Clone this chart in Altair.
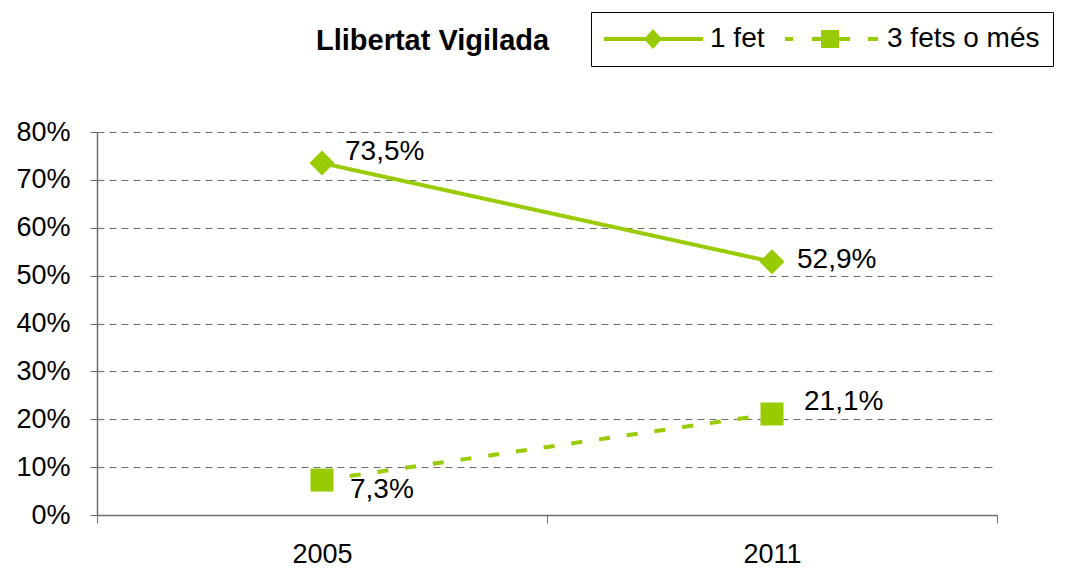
import altair as alt
import pandas as pd

# ---- data ----
years = ["2005", "2011"]
series_names = ["1 fet", "3 fets o més"]
values_1fet = [0.735, 0.529]
values_3fets = [0.073, 0.211]
y_ticks = [0.0, 0.1, 0.2, 0.3, 0.4, 0.5, 0.6, 0.7, 0.8]

rows = []
for s, vals in zip(series_names, [values_1fet, values_3fets]):
    for yr, v in zip(years, vals):
        rows.append({"year": yr, "series": s, "value": v})
df = pd.DataFrame(rows)

# ---- style ----
GREEN = "#99CC00"
FONT = "Liberation Sans"
AXIS_GREY = "#6e6e6e"
line_dashes = [[1, 0], [11, 17]]
point_shapes = ["diamond", "square"]
point_sizes = [625, 529]
label_offsets = {
    ("1 fet", "2005"): (23, -11),
    ("1 fet", "2011"): (25, -2),
    ("3 fets o més", "2005"): (28, 10),
    ("3 fets o més", "2011"): (32, -12),
}
# legend glyphs (line + marker), drawn in symbol units, shifted right by 3.5
legend_paths = [
    "M2.1,-0.2L2.78,-0.2L3.5,-1L4.22,-0.2L8.5,-0.2L8.5,0.2L4.22,0.2L3.5,1L2.78,0.2L2.1,0.2Z "
    "M-1.4,-0.2L2.1,-0.2L2.1,0.2L-1.4,0.2Z",
    "M-1,-0.2L-0.2,-0.2L-0.2,0.2L-1,0.2Z "
    "M1.7,-0.2L2.6,-0.2L2.6,-0.9L4.4,-0.9L4.4,-0.2L5.5,-0.2L5.5,0.2L4.4,0.2L4.4,0.9L2.6,0.9L2.6,0.2L1.7,0.2Z "
    "M7.3,-0.2L8.3,-0.2L8.3,0.2L7.3,0.2Z",
]

x_enc = alt.X(
    "year:N",
    sort=years,
    scale=alt.Scale(type="band", paddingInner=0, paddingOuter=0),
    axis=alt.Axis(
        title=None, labelAngle=0, tickBand="extent", tickSize=8,
        labelPadding=18, grid=False,
    ),
)
y_enc = alt.Y(
    "value:Q",
    scale=alt.Scale(domain=[0, 0.8], nice=False, zero=True),
    axis=alt.Axis(
        title=None, format=".0%", values=y_ticks, tickSize=7, labelPadding=20,
        grid=True, gridDash=[7, 5], gridColor="#707070", gridWidth=1,
    ),
)

base = alt.Chart(df)

layers = []
for s, dash in zip(series_names, line_dashes):
    layers.append(
        base.transform_filter(alt.datum.series == s)
        .mark_line(color=GREEN, strokeWidth=4, strokeDash=dash)
        .encode(x=x_enc, y=y_enc)
    )
for s, shp, sz in zip(series_names, point_shapes, point_sizes):
    layers.append(
        base.transform_filter(alt.datum.series == s)
        .mark_point(shape=shp, filled=True, size=sz, color=GREEN, opacity=1)
        .encode(x=x_enc, y=y_enc)
    )

for (s, yr), (dx, dy) in label_offsets.items():
    layers.append(
        base.transform_filter((alt.datum.series == s) & (alt.datum.year == yr))
        .transform_calculate(label="replace(format(datum.value, '.1%'), '.', ',')")
        .mark_text(align="left", baseline="middle", dx=dx, dy=dy,
                   font=FONT, fontSize=28, color="black")
        .encode(x=x_enc, y=y_enc, text="label:N")
    )

legend_layer = base.mark_point(
    filled=True, color=GREEN, opacity=0
).encode(
    x=x_enc,
    y=y_enc,
    shape=alt.Shape(
        "series:N",
        scale=alt.Scale(domain=series_names, range=legend_paths),
        legend=alt.Legend(
            title=None,
            orient="none",
            legendX=494,
            legendY=-120,
            direction="horizontal",
            labelFont=FONT,
            labelFontSize=28,
            labelColor="black",
            symbolSize=400,
            symbolStrokeWidth=0,
            symbolOpacity=1,
            symbolFillColor=GREEN,
            labelOffset=78,
            columnPadding=16,
            padding=13,
            strokeColor="black",
            fillColor="white",
        ),
    ),
)
layers.append(legend_layer)

chart = alt.layer(*layers).properties(
    width=900,
    height=383,
    autosize="none",
    background="white",
    padding={"left": 89, "top": 124, "right": 62, "bottom": 55},
    title=alt.TitleParams(
        "Llibertat Vigilada", anchor="start", frame="group", dx=219, offset=0,
        dy=44, font=FONT, fontSize=29, fontWeight="bold", color="black",
    ),
).configure_view(stroke=None).configure_axis(
    domainColor=AXIS_GREY, tickColor=AXIS_GREY, labelFont=FONT,
    labelFontSize=27, labelColor="black", domainWidth=1.5,
)

chart.save("out.html", embed_options={"renderer": "svg", "actions": False})
